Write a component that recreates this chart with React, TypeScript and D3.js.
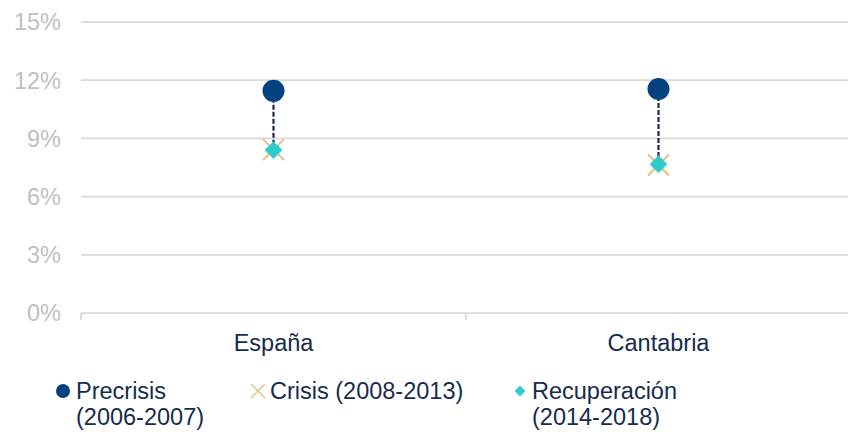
import React from "react";
import * as d3 from "d3";

const categories = ["España", "Cantabria"];
const precrisis = [11.45, 11.55];
const crisis = [8.42, 7.63];
const recuperacion = [8.4, 7.67];
const yTicks = [0, 3, 6, 9, 12, 15];
const legendLabels = [
  ["Precrisis", "(2006-2007)"],
  ["Crisis (2008-2013)"],
  ["Recuperación", "(2014-2018)"],
];

const W = 848;
const H = 432;
const FONT = "'Liberation Sans', Arial, sans-serif";
const NAVY = "#03427F";
const TAN = "#DEC183";
const TEAL = "#2ECDC9";
const TEXT = "#172B4D";
const GRID = "#D9D9D9";
const FS = 23.5;

export default function App() {
  const x = d3.scaleBand<string>().domain(categories).range([81, 851]).padding(0);
  const y = d3.scaleLinear().domain([0, 15]).range([313, 22]);
  const bw = x.bandwidth();
  const cx = (c: string) => (x(c) as number) + bw / 2;
  const diamond = d3.symbol().type(d3.symbolDiamond2);

  const legendX = [63, 258, 520];
  const legendTextX = [76, 270, 532];
  const legendY = 391;

  return (
    <svg
      width={W}
      height={H}
      style={{ position: "absolute", left: 0, top: 0, background: "#fff" }}
      fontFamily={FONT}
    >
      {yTicks.map((t) => (
        <g key={t}>
          <line x1={81} x2={W} y1={y(t)} y2={y(t)} stroke={GRID} strokeWidth={1.75} />
          <text x={61} y={y(t)} dy="0.36em" textAnchor="end" fontSize={FS} fill="#BFBFBF">
            {t}%
          </text>
        </g>
      ))}
      {categories.map((c) => (
        <line key={"tk" + c} x1={x(c) as number} x2={x(c) as number} y1={y(0)} y2={y(0) + 7} stroke={GRID} strokeWidth={1.75} />
      ))}
      {categories.map((c) => (
        <text key={"lb" + c} x={cx(c)} y={351} textAnchor="middle" fontSize={FS} fill={TEXT}>
          {c}
        </text>
      ))}
      {categories.map((c, i) => (
        <line
          key={"dl" + c}
          x1={cx(c)}
          x2={cx(c)}
          y1={y(precrisis[i])}
          y2={y(Math.min(crisis[i], recuperacion[i]))}
          stroke="#1F2E52"
          strokeWidth={2.25}
          strokeDasharray="5,2"
        />
      ))}
      {categories.map((c, i) => {
        const px = cx(c);
        const py = y(crisis[i]);
        const s = 10.5;
        return (
          <g key={"cr" + c} stroke={TAN} strokeWidth={2}>
            <line x1={px - s} x2={px + s} y1={py - s} y2={py + s} />
            <line x1={px - s} x2={px + s} y1={py + s} y2={py - s} />
          </g>
        );
      })}
      {categories.map((c, i) => (
        <path
          key={"rc" + c}
          d={diamond.size(200)() as string}
          transform={`translate(${cx(c)},${y(recuperacion[i])})`}
          fill={TEAL}
        />
      ))}
      {categories.map((c, i) => (
        <circle key={"pc" + c} cx={cx(c)} cy={y(precrisis[i])} r={11} fill={NAVY} />
      ))}

      {/* legend */}
      <circle cx={legendX[0]} cy={legendY} r={7} fill={NAVY} />
      <g stroke={TAN} strokeWidth={1.5}>
        <line x1={legendX[1] - 7} x2={legendX[1] + 7} y1={legendY - 7} y2={legendY + 7} />
        <line x1={legendX[1] - 7} x2={legendX[1] + 7} y1={legendY + 7} y2={legendY - 7} />
      </g>
      <path d={diamond.size(75)() as string} transform={`translate(${legendX[2]},${legendY})`} fill={TEAL} />
      {legendLabels.map((lines, i) => (
        <text key={"lg" + i} x={legendTextX[i]} y={399} fontSize={FS} fill={TEXT}>
          {lines.map((l, j) => (
            <tspan key={j} x={legendTextX[i]} y={399 + j * 26}>
              {l}
            </tspan>
          ))}
        </text>
      ))}
    </svg>
  );
}
